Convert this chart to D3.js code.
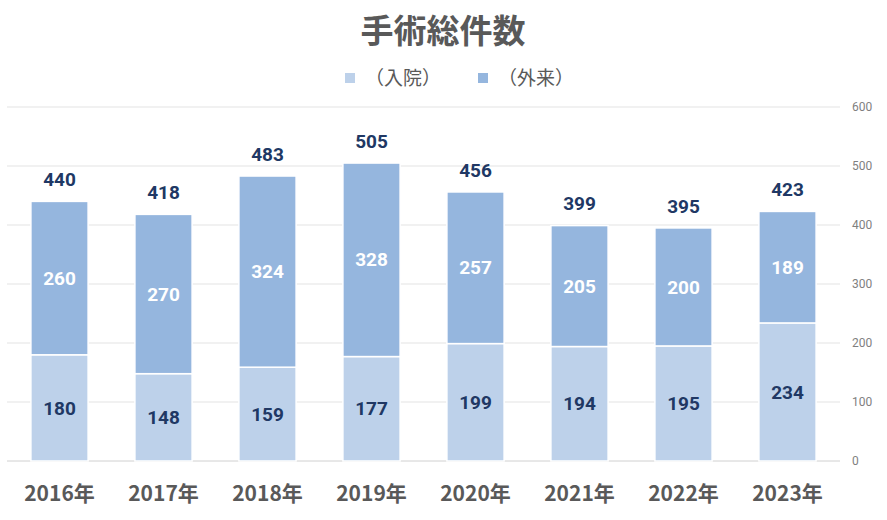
<!DOCTYPE html>
<html><head><meta charset="utf-8">
<script src="https://cdn.jsdelivr.net/npm/d3@7"></script>
<style>body{margin:0;background:#fff}svg{display:block}</style>
</head><body>
<svg id="c" width="887" height="520"></svg>
<script>
const title = "手術総件数";
const categories = ["2016年","2017年","2018年","2019年","2020年","2021年","2022年","2023年"];
const seriesNames = ["（入院）","（外来）"];
const inpatient = [180,148,159,177,199,194,195,234];
const outpatient = [260,270,324,328,257,205,200,189];
const totals = [440,418,483,505,456,399,395,423];
const yTicks = [0,100,200,300,400,500,600];

const colors = ["#BDD1EA","#95B6DE"];
const svg = d3.select("#c");
const x = d3.scaleBand().domain(categories).range([7.5,839.5]).paddingInner(0.45).paddingOuter(0.225);
const y = d3.scaleLinear().domain([0,600]).range([461,107]);

// grid
svg.append("g").selectAll("line").data(yTicks).join("line")
  .attr("x1",7).attr("x2",840).attr("y1",d=>y(d)).attr("y2",d=>y(d))
  .attr("stroke",d=>d===0?"#d0d0d0":"#e3e3e3").attr("stroke-width",1);

// right axis
const ax = d3.axisRight(y).tickValues(yTicks).tickSize(0).tickPadding(0);
const g = svg.append("g").attr("transform","translate(852,0)").call(ax);
g.select(".domain").remove();
g.selectAll("text").attr("fill","#7f7f7f").attr("font-size","12px").attr("font-family","Roboto, 'Noto Sans', sans-serif").attr("dy","0.32em");

const data = categories.map((c,i)=>({c,a:inpatient[i],b:outpatient[i],t:totals[i]}));
const stack = d3.stack().keys(["a","b"])(data);
svg.append("g").selectAll("g").data(stack).join("g").attr("fill",(d,i)=>colors[i])
  .selectAll("rect").data(d=>d).join("rect")
  .attr("x",d=>x(d.data.c)).attr("width",x.bandwidth())
  .attr("y",d=>y(d[1])).attr("height",d=>y(d[0])-y(d[1]))
  .attr("stroke","#fff").attr("stroke-width",1.5);

const numFont = "Roboto, 'Liberation Sans', sans-serif";
// segment labels
stack.forEach((s,si)=>{
  svg.append("g").selectAll("text").data(s).join("text")
    .attr("x",d=>x(d.data.c)+x.bandwidth()/2).attr("y",d=>(y(d[0])+y(d[1]))/2)
    .attr("dy","0.35em").attr("text-anchor","middle")
    .attr("font-family",numFont).attr("font-weight","bold").attr("font-size","19px")
    .attr("fill",si===0?"#203864":"#ffffff")
    .text(d=>d[1]-d[0]);
});
// totals
svg.append("g").selectAll("text").data(data).join("text")
  .attr("x",d=>x(d.c)+x.bandwidth()/2).attr("y",d=>y(d.a+d.b)-22)
  .attr("dy","0.35em").attr("text-anchor","middle")
  .attr("font-family",numFont).attr("font-weight","bold").attr("font-size","19px")
  .attr("fill","#203864").text(d=>d.t);

// x labels
svg.append("g").selectAll("text").data(categories).join("text")
  .attr("x",d=>x(d)+x.bandwidth()/2).attr("y",494).attr("dy","0.35em").attr("text-anchor","middle")
  .attr("font-family","'Noto Sans CJK JP', sans-serif").attr("font-weight","bold").attr("font-size","21px")
  .attr("fill","#595959").text(d=>d);

// title
svg.append("text").attr("x",443).attr("y",31).attr("dy","0.35em").attr("text-anchor","middle")
  .attr("font-family","'Noto Sans CJK JP', sans-serif").attr("font-weight","bold").attr("font-size","33px")
  .attr("fill","#595959").text(title);

// legend
const legX = [345,478];
seriesNames.forEach((n,i)=>{
  svg.append("rect").attr("x",legX[i]).attr("y",73).attr("width",10).attr("height",10).attr("fill",colors[i]);
  svg.append("text").attr("x",legX[i]+20).attr("y",78).attr("dy","0.35em")
    .attr("font-family","'Noto Sans CJK JP', sans-serif").attr("font-size","19px")
    .attr("fill","#595959").text(n);
});
</script>
</body></html>
